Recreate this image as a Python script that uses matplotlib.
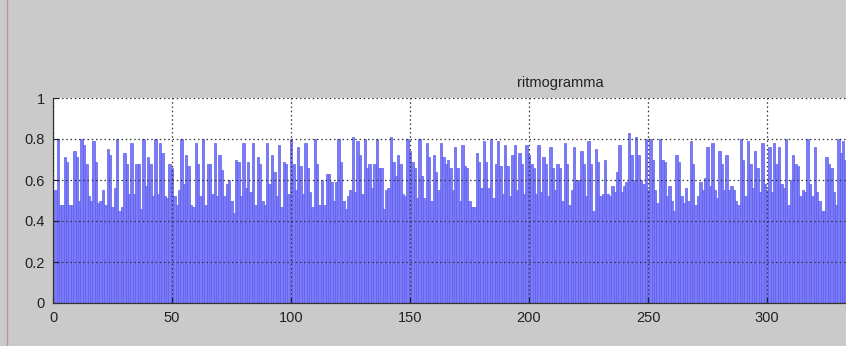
"""Ritmogramma: RR intervals per beat as a MATLAB-style bar chart."""
import matplotlib

matplotlib.use("Agg")
import matplotlib.pyplot as plt  # noqa: E402
from matplotlib.lines import Line2D  # noqa: E402

# RR interval (s) for each beat, beats numbered from 1
rr = [
    0.55, 0.80, 0.48, 0.48, 0.71, 0.69, 0.48, 0.48, 0.74, 0.71,
    0.50, 0.80, 0.77, 0.68, 0.52, 0.50, 0.79, 0.69, 0.49, 0.50,
    0.55, 0.48, 0.75, 0.72, 0.47, 0.56, 0.80, 0.45, 0.47, 0.73,
    0.68, 0.53, 0.78, 0.53, 0.68, 0.68, 0.46, 0.80, 0.57, 0.71,
    0.68, 0.52, 0.80, 0.53, 0.78, 0.73, 0.52, 0.51, 0.68, 0.66,
    0.52, 0.48, 0.55, 0.80, 0.58, 0.72, 0.67, 0.48, 0.47, 0.78,
    0.68, 0.52, 0.80, 0.48, 0.68, 0.68, 0.53, 0.78, 0.52, 0.72,
    0.65, 0.52, 0.58, 0.60, 0.50, 0.44, 0.70, 0.69, 0.52, 0.78,
    0.56, 0.69, 0.54, 0.78, 0.48, 0.71, 0.68, 0.50, 0.48, 0.78,
    0.58, 0.72, 0.64, 0.52, 0.77, 0.47, 0.69, 0.68, 0.53, 0.80,
    0.68, 0.55, 0.76, 0.67, 0.53, 0.78, 0.66, 0.54, 0.47, 0.80,
    0.68, 0.48, 0.60, 0.48, 0.63, 0.63, 0.59, 0.50, 0.59, 0.80,
    0.69, 0.50, 0.46, 0.52, 0.55, 0.81, 0.54, 0.79, 0.72, 0.53,
    0.80, 0.66, 0.68, 0.56, 0.68, 0.80, 0.66, 0.66, 0.46, 0.55,
    0.56, 0.81, 0.69, 0.62, 0.72, 0.68, 0.53, 0.52, 0.80, 0.74,
    0.69, 0.66, 0.51, 0.80, 0.62, 0.51, 0.78, 0.71, 0.50, 0.72,
    0.64, 0.55, 0.78, 0.71, 0.68, 0.70, 0.66, 0.55, 0.76, 0.66,
    0.50, 0.77, 0.67, 0.66, 0.50, 0.47, 0.47, 0.73, 0.69, 0.56,
    0.79, 0.69, 0.56, 0.80, 0.51, 0.68, 0.79, 0.67, 0.53, 0.77,
    0.67, 0.52, 0.72, 0.77, 0.55, 0.73, 0.68, 0.53, 0.77, 0.72,
    0.68, 0.66, 0.53, 0.77, 0.54, 0.71, 0.68, 0.52, 0.76, 0.66,
    0.55, 0.68, 0.66, 0.50, 0.78, 0.68, 0.48, 0.55, 0.76, 0.60,
    0.60, 0.74, 0.68, 0.52, 0.79, 0.68, 0.45, 0.75, 0.69, 0.52,
    0.53, 0.70, 0.53, 0.52, 0.57, 0.54, 0.64, 0.77, 0.54, 0.57,
    0.59, 0.83, 0.72, 0.60, 0.81, 0.72, 0.60, 0.58, 0.80, 0.55,
    0.80, 0.70, 0.55, 0.49, 0.80, 0.70, 0.69, 0.52, 0.57, 0.50,
    0.45, 0.72, 0.69, 0.52, 0.49, 0.56, 0.50, 0.79, 0.68, 0.48,
    0.52, 0.59, 0.55, 0.61, 0.76, 0.57, 0.78, 0.55, 0.51, 0.74,
    0.68, 0.55, 0.72, 0.55, 0.57, 0.55, 0.50, 0.48, 0.80, 0.70,
    0.52, 0.79, 0.68, 0.56, 0.74, 0.66, 0.54, 0.78, 0.58, 0.55,
    0.76, 0.54, 0.78, 0.68, 0.76, 0.58, 0.56, 0.80, 0.48, 0.60,
    0.72, 0.68, 0.67, 0.52, 0.55, 0.54, 0.80, 0.58, 0.52, 0.76,
    0.54, 0.50, 0.45, 0.45, 0.71, 0.68, 0.66, 0.54, 0.48, 0.80,
    0.73, 0.79, 0.70,
]
beats = list(range(1, len(rr) + 1))

x_ticks = [0, 50, 100, 150, 200, 250, 300]
y_ticks = [0, 0.2, 0.4, 0.6, 0.8, 1]
y_labels = ["0", "0.2", "0.4", "0.6", "0.8", "1"]

BG = "#cacaca"
BAR = "#7c7cfb"
EDGE = "#5f5fec"

plt.rcParams.update({"font.family": ["Liberation Sans", "DejaVu Sans"], "font.size": 10})

fig = plt.figure(figsize=(8.46, 3.46), dpi=100, facecolor=BG)
# the axes run past the right edge of the window, as in the original figure
ax = fig.add_axes([53 / 846, 1 - 303 / 346, 1014 / 846, 205 / 346])
ax.set_facecolor("white")

ax.bar(beats, rr, width=1.0, color=BAR, edgecolor=EDGE, linewidth=0.5, zorder=2)

ax.set_xlim(0, 426)
ax.set_ylim(0, 1)
ax.set_xticks(x_ticks)
ax.set_yticks(y_ticks)
ax.set_yticklabels(y_labels)
ax.tick_params(direction="in", length=4, width=0.8, colors="#222222", labelsize=10.5)
ax.tick_params(axis="x", pad=6)
ax.tick_params(axis="y", pad=6)

ax.grid(True, linestyle=(0, (1.2, 2.2)), color="#333333", linewidth=0.9, zorder=3)
ax.set_axisbelow(False)
for side in ("top", "right"):
    ax.spines[side].set_visible(False)
for side in ("left", "bottom"):
    ax.spines[side].set_color("#333333")
    ax.spines[side].set_linewidth(0.9)
    ax.spines[side].set_zorder(4)

ax.set_title("ritmogramma", fontsize=10.5, color="#222222", pad=8)

# thin border line at the left side of the window
fig.add_artist(Line2D([7 / 846, 7 / 846], [0, 1], transform=fig.transFigure,
                      color="#b89890", linewidth=1.0))

fig.savefig("out.png", dpi=100, facecolor=BG)
